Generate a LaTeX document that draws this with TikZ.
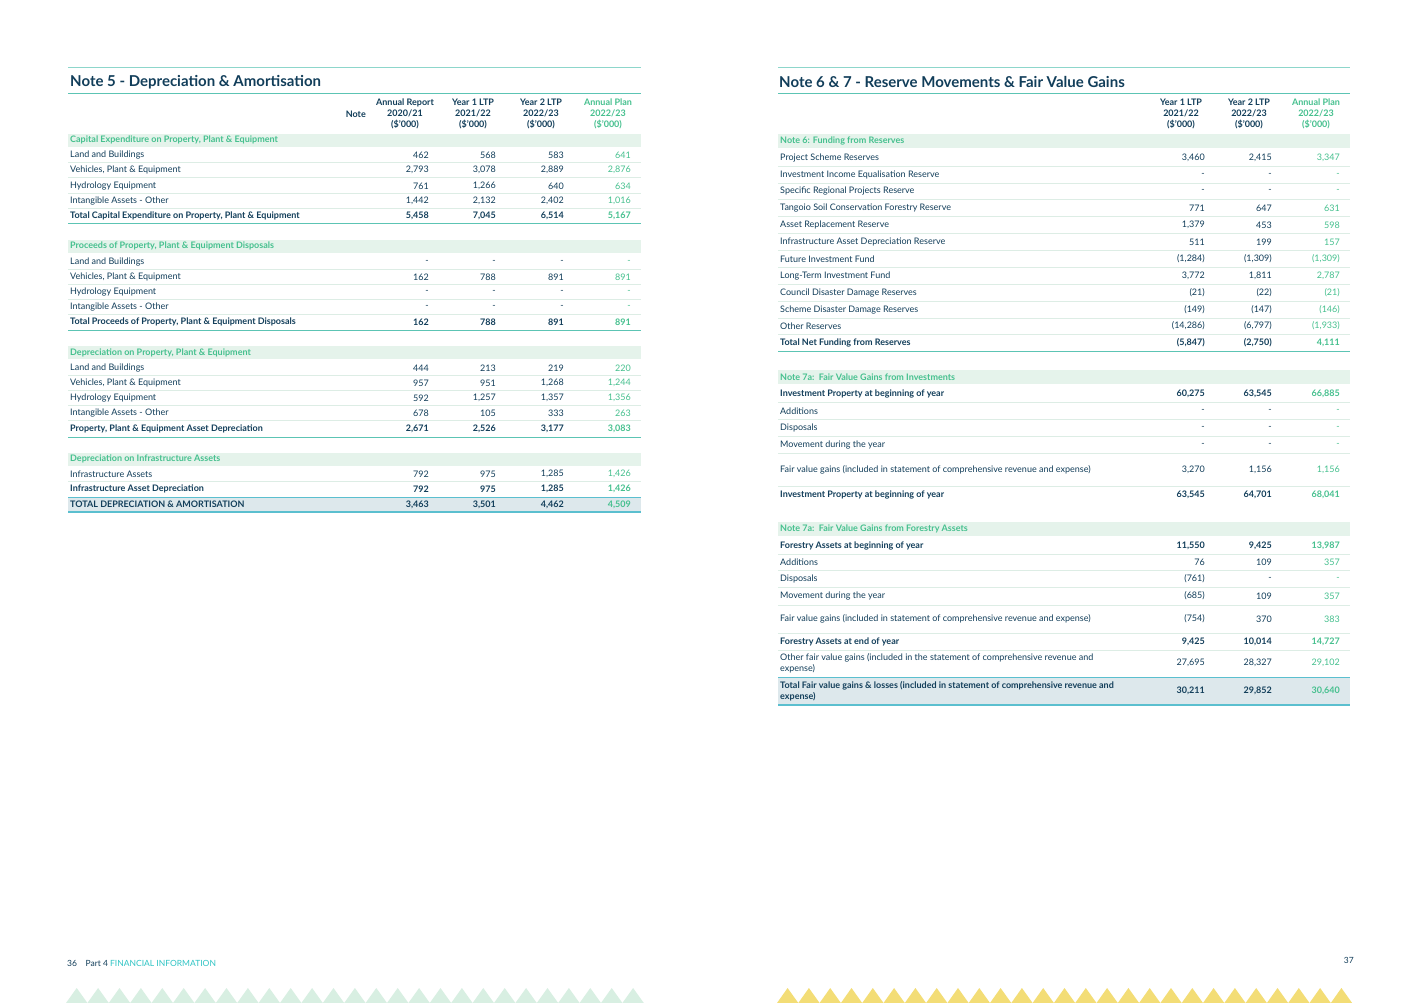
\documentclass[tikz,border=0pt]{standalone}
\usepackage{fontspec}
\setmainfont{Lato}
\definecolor{navy}{HTML}{123E5A}
\definecolor{grn}{HTML}{45C08E}
\definecolor{band}{HTML}{E5F3EB}
\definecolor{sepc}{HTML}{DDEDE5}
\definecolor{teal}{HTML}{5CC4B4}
\definecolor{tot}{HTML}{DDE8EC}
\definecolor{totl}{HTML}{5BBFCF}
\definecolor{trig}{HTML}{D8EFE2}
\definecolor{trigy}{HTML}{F3DD76}
\definecolor{cyan2}{HTML}{2EC4C4}
\tikzset{
 lab/.style={anchor=west,inner sep=0,text=navy,font=\fontsize{9}{10}\selectfont},
 num/.style={anchor=east,inner sep=0,text=navy,font=\fontsize{9}{10}\selectfont},
 bf/.style={font=\fontsize{9}{10}\selectfont\bfseries},
 g/.style={text=grn},
 sep/.style={draw=sepc,line width=0.8pt},
 tl/.style={draw=teal,line width=1pt},
 hd/.style={align=center,inner sep=0,text=navy,font=\fontsize{9}{11}\selectfont\bfseries},
 sec/.style={anchor=west,inner sep=0,text=grn,font=\fontsize{9}{10}\selectfont\bfseries},
 ttl/.style={anchor=west,inner sep=0,text=navy,font=\fontsize{15}{17}\selectfont\bfseries}
}
\newcommand\Lrow[7][]{\node[lab,#1] at (70,#2){#3};\node[num,#1] at (429,#2){#4};\node[num,#1] at (496,#2){#5};\node[num,#1] at (564,#2){#6};\node[num,#1,g] at (631,#2){#7};}
\newcommand\Lsep[1]{\draw[sep] (68,#1+7.5)--(641,#1+7.5);}
\newcommand\Rrow[6][]{\node[lab,#1] at (780,#2){#3};\node[num,#1] at (1205,#2){#4};\node[num,#1] at (1272,#2){#5};\node[num,#1,g] at (1340,#2){#6};}
\newcommand\Rsep[1]{\draw[sep] (778,#1)--(1350,#1);}
\begin{document}
\begin{tikzpicture}[x=1pt,y=-1pt]
\useasboundingbox (0,0) rectangle (1419,1003);
\fill[white] (0,0) rectangle (1419,1003);
% ================= LEFT =================
\draw[tl,draw=teal!70] (68,68)--(641,68);
\node[ttl] (t5) at (70,82) {Note 5 - Depreciation \& Amortisation};
\draw[tl] (68,94)--(641,94);
\node[hd,anchor=east] at (366,114) {Note};
\node[hd] at (405,114) {Annual Report\\2020/21\\(\$'000)};
\node[hd] at (473,114) {Year 1 LTP\\2021/22\\(\$'000)};
\node[hd] at (541,114) {Year 2 LTP\\2022/23\\(\$'000)};
\node[hd,text=grn] at (608,114) {Annual Plan\\2022/23\\(\$'000)};
% section 1
\fill[band] (68,134) rectangle (641,147);
\node[sec] at (70,140) {Capital Expenditure on Property, Plant \& Equipment};
\Lrow{155}{Land and Buildings}{462}{568}{583}{641}\Lsep{155}
\Lrow{170}{Vehicles, Plant \& Equipment}{2,793}{3,078}{2,889}{2,876}\Lsep{170}
\Lrow{186}{Hydrology Equipment}{761}{1,266}{640}{634}\Lsep{186}
\Lrow{201}{Intangible Assets - Other}{1,442}{2,132}{2,402}{1,016}\Lsep{201}
\Lrow[bf]{216}{Total Capital Expenditure on Property, Plant \& Equipment}{5,458}{7,045}{6,514}{5,167}
\draw[tl] (68,224)--(641,224);
% section 2
\fill[band] (68,240) rectangle (641,253);
\node[sec] at (70,246) {Proceeds of Property, Plant \& Equipment Disposals};
\Lrow{262}{Land and Buildings}{-}{-}{-}{-}\Lsep{262}
\Lrow{277}{Vehicles, Plant \& Equipment}{162}{788}{891}{891}\Lsep{277}
\Lrow{292}{Hydrology Equipment}{-}{-}{-}{-}\Lsep{292}
\Lrow{307}{Intangible Assets - Other}{-}{-}{-}{-}\Lsep{307}
\Lrow[bf]{322}{Total Proceeds of Property, Plant \& Equipment Disposals}{162}{788}{891}{891}
\draw[tl] (68,330)--(641,330);
% section 3
\fill[band] (68,346) rectangle (641,359);
\node[sec] at (70,353) {Depreciation on Property, Plant \& Equipment};
\Lrow{368}{Land and Buildings}{444}{213}{219}{220}\Lsep{368}
\Lrow{383}{Vehicles, Plant \& Equipment}{957}{951}{1,268}{1,244}\Lsep{383}
\Lrow{398}{Hydrology Equipment}{592}{1,257}{1,357}{1,356}\Lsep{398}
\Lrow{413}{Intangible Assets - Other}{678}{105}{333}{263}\Lsep{413}
\Lrow[bf]{429}{Property, Plant \& Equipment Asset Depreciation}{2,671}{2,526}{3,177}{3,083}
\draw[tl] (68,437)--(641,437);
% section 4
\fill[band] (68,453) rectangle (641,466);
\node[sec] at (70,459) {Depreciation on Infrastructure Assets};
\Lrow{474}{Infrastructure Assets}{792}{975}{1,285}{1,426}\Lsep{474}
\Lrow[bf]{489}{Infrastructure Asset Depreciation}{792}{975}{1,285}{1,426}
\fill[tot] (68,497) rectangle (641,512);
\draw[draw=totl,line width=1pt] (68,497)--(641,497);
\draw[draw=totl,line width=1.2pt] (68,512)--(641,512);
\Lrow[bf]{504.5}{TOTAL DEPRECIATION \& AMORTISATION}{3,463}{3,501}{4,462}{4,509}
% ================= RIGHT =================
\draw[tl,draw=teal!70] (778,68)--(1350,68);
\node[ttl] (t6) at (779,82) {Note 6 \& 7 - Reserve Movements \& Fair Value Gains};
\draw[tl] (778,94)--(1350,94);
\node[hd] at (1181,114) {Year 1 LTP\\2021/22\\(\$'000)};
\node[hd] at (1249,114) {Year 2 LTP\\2022/23\\(\$'000)};
\node[hd,text=grn] at (1316,114) {Annual Plan\\2022/23\\(\$'000)};
\fill[band] (778,134) rectangle (1350,148);
\node[sec] at (780,141) {Note 6: Funding from Reserves};
\Rrow{158}{Project Scheme Reserves}{3,460}{2,415}{3,347}\Rsep{166.5}
\Rrow{175}{Investment Income Equalisation Reserve}{-}{-}{-}\Rsep{183}
\Rrow{191}{Specific Regional Projects Reserve}{-}{-}{-}\Rsep{199.5}
\Rrow{208}{Tangoio Soil Conservation Forestry Reserve}{771}{647}{631}\Rsep{216.5}
\Rrow{225}{Asset Replacement Reserve}{1,379}{453}{598}\Rsep{233.5}
\Rrow{242}{Infrastructure Asset Depreciation Reserve}{511}{199}{157}\Rsep{250.5}
\Rrow{259}{Future Investment Fund}{(1,284)}{(1,309)}{(1,309)}\Rsep{267.5}
\Rrow{276}{Long-Term Investment Fund}{3,772}{1,811}{2,787}\Rsep{284.5}
\Rrow{293}{Council Disaster Damage Reserves}{(21)}{(22)}{(21)}\Rsep{301.5}
\Rrow{310}{Scheme Disaster Damage Reserves}{(149)}{(147)}{(146)}\Rsep{318}
\Rrow{326}{Other Reserves}{(14,286)}{(6,797)}{(1,933)}\Rsep{334.5}
\Rrow[bf]{343}{Total Net Funding from Reserves}{(5,847)}{(2,750)}{4,111}
\draw[tl] (778,351.5)--(1350,351.5);
\fill[band] (778,370) rectangle (1350,384);
\node[sec] at (780,377) {Note 7a:\ \ Fair Value Gains from Investments};
\Rrow[bf]{394}{Investment Property at beginning of year}{60,275}{63,545}{66,885}\Rsep{402.5}
\Rrow{411}{Additions}{-}{-}{-}\Rsep{419.5}
\Rrow{428}{Disposals}{-}{-}{-}\Rsep{436.5}
\Rrow{445}{Movement during the year}{-}{-}{-}\Rsep{453.5}
\Rrow{470}{Fair value gains (included in statement of comprehensive revenue and expense)}{3,270}{1,156}{1,156}\Rsep{486}
\Rrow[bf]{495}{Investment Property at beginning of year}{63,545}{64,701}{68,041}
\fill[band] (778,522) rectangle (1350,536);
\node[sec] at (780,529) {Note 7a:\ \ Fair Value Gains from Forestry Assets};
\Rrow[bf]{546}{Forestry Assets at beginning of year}{11,550}{9,425}{13,987}\Rsep{554}
\Rrow{562}{Additions}{76}{109}{357}\Rsep{570.5}
\Rrow{579}{Disposals}{(761)}{-}{-}\Rsep{587.5}
\Rrow{596}{Movement during the year}{(685)}{109}{357}\Rsep{605}
\Rrow{619}{Fair value gains (included in statement of comprehensive revenue and expense)}{(754)}{370}{383}\Rsep{633}
\Rrow[bf]{642}{Forestry Assets at end of year}{9,425}{10,014}{14,727}\Rsep{650}
\node[lab,align=left,font=\fontsize{9}{11}\selectfont] at (780,663) {Other fair value gains (included in the statement of comprehensive revenue and\\expense)};
\node[num] at (1205,663) {27,695};\node[num] at (1272,663) {28,327};\node[num,g] at (1340,663) {29,102};
\fill[tot] (778,677) rectangle (1350,705);
\draw[draw=totl,line width=1pt] (778,677)--(1350,677);
\draw[draw=totl,line width=1.2pt] (778,705)--(1350,705);
\node[lab,bf,align=left,font=\fontsize{9}{11}\selectfont\bfseries] at (780,691) {Total Fair value gains \& losses (included in statement of comprehensive revenue and\\expense)};
\node[num,bf] at (1205,691) {30,211};\node[num,bf] at (1272,691) {29,852};\node[num,bf,g] at (1340,691) {30,640};
% ================= FOOTER =================
\node[lab,font=\fontsize{8.5}{10}\selectfont] (f36) at (67,963) {36\quad Part 4 \textcolor{cyan2}{FINANCIAL INFORMATION}};
\node[num,font=\fontsize{8.5}{10}\selectfont] (f37) at (1354,960) {37};
\foreach \i in {0,...,26}{
  \fill[trig] (66+\i*21.4,1003)--(76.7+\i*21.4,988)--(87.4+\i*21.4,1003)--cycle;
  \fill[trigy] (777+\i*21.3,1003)--(787.6+\i*21.3,988)--(798.3+\i*21.3,1003)--cycle;
}
\end{tikzpicture}
\end{document}
